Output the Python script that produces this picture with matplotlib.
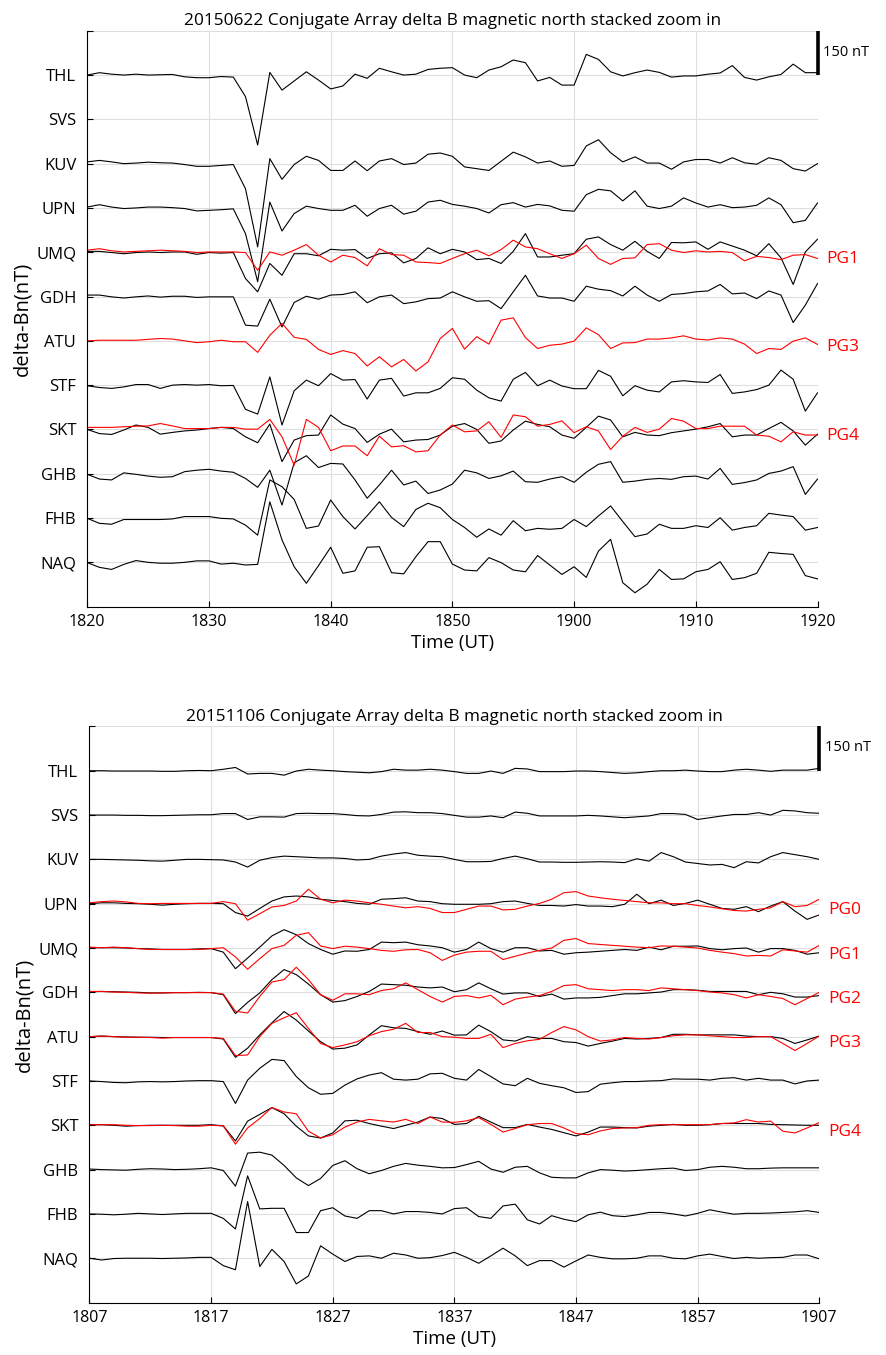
import numpy as np
import matplotlib.pyplot as plt

plt.rcParams['font.family'] = ['Open Sans', 'DejaVu Sans']

stations = ['THL', 'SVS', 'KUV', 'UPN', 'UMQ', 'GDH', 'ATU', 'STF', 'SKT', 'GHB', 'FHB', 'NAQ']

# ---- 20150622, 1820-1920 UT, one value per minute, delta Bn in nT ----
ticks_a = ['1820', '1830', '1840', '1850', '1900', '1910', '1920']
thl_a = [0, 8, 3, 0, 3, 0, 1, 2, -6, -9, -9, -5, -7, -73, -237, 9, -51, -20, 11, -17,
         -47, -37, 3, -11, 23, 11, 0, 3, 19, 23, 25, 0, -9, 17, 28, 51, 42, -20, -8, -34,
         -34, 70, 53, 11, -3, 8, 17, 9, -7, -3, -3, 3, 7, 32, -8, -17, -6, 2, 37, 8, 8]
svs_a = []  # no data
kuv_a = [6, 11, 6, 0, 2, 5, 3, 2, -3, -9, -9, -6, -3, -85, -282, 17, -53, -3, 25, 11,
         -23, -23, 9, -24, 9, 17, -3, 2, 32, 36, 25, -11, -17, -23, 8, 39, 23, 2, 9, -9,
         -6, 60, 81, 37, 6, 23, 2, 2, -19, 6, 14, 14, 2, 20, 3, -2, 20, 11, -17, -25, 0]
upn_a = [3, 11, 3, -2, 0, 3, 3, 1, -2, -10, -8, -6, -3, -87, -250, 20, -78, -19, 6, -2,
         -8, -8, 9, -28, -2, 9, -21, -11, 20, 26, 12, 6, -2, -17, 11, 18, 3, 12, 7, -8,
         -11, 45, 63, 58, 24, 58, 6, -2, 6, 34, 17, 3, 11, 1, 3, 9, 34, 11, -50, -42, 17]
umq_a = [3, 3, -1, -5, -1, 1, -1, 1, 1, -7, -1, -3, -1, -89, -134, -38, -78, -5, -5, -12,
         10, 7, 9, -21, -5, -2, -36, -21, 15, -5, 10, 1, -25, -21, -38, 3, 63, -16, -16, -10,
         -5, 44, 52, 26, 7, 37, 3, -21, 33, 32, 35, 10, 35, 21, 7, -12, 29, -19, -109, 1, 44]
gdh_a = [5, 5, -1, -5, -1, 2, -2, 1, 1, -3, -1, -1, -1, -97, -100, -9, -103, -20, 1, -9,
         5, 7, 16, -21, -1, 5, -24, -18, -7, -5, 16, -1, -16, -14, -41, 16, 72, 2, -5, -5,
         -16, 35, 25, 20, 2, 35, 5, -16, 7, 10, 16, 19, 41, 9, 12, -7, 19, 5, -88, -29, 44]
atu_a = []  # no data
stf_a = [-2, -8, -11, -6, 2, 2, -11, 0, 2, 0, 2, -2, -1, -82, -98, 28, -135, -19, 17, -2,
         39, 17, 19, -47, 17, 23, -37, -26, -26, -11, 25, 20, -17, -43, -54, 20, 43, -2, 17, -3,
         -12, -12, 50, 30, -36, -2, -17, -23, 11, 15, 11, 9, 36, -28, -23, -15, 0, 51, 20, -88, -26]
skt_a = [0, -14, -17, -2, 15, 7, -16, -10, -5, -2, 3, 7, 3, -25, -45, 18, -109, -36, -21, -19,
         49, 18, 3, -44, -16, 1, -42, -36, -34, -19, 11, 20, 0, -47, -39, -2, 28, 17, 9, -19,
         -30, 7, 45, 32, -25, -10, -19, -21, -11, -5, 1, 9, 20, -25, -19, -19, 3, 24, -5, -53, -16]
ghb_a = [-2, -18, -21, 3, -2, -8, -12, -10, 7, 12, 15, 9, 5, -16, -46, 12, -106, 37, 61, 21,
         35, 33, -21, -83, -38, 12, -38, -25, -67, -55, -35, 12, 3, -16, -7, 9, -27, -29, -18, -10,
         -29, 5, 32, 41, -29, -25, -19, -16, -19, -10, -8, -18, 18, -36, -30, -21, 1, 9, 24, -70, -18]
fhb_a = [-1, -18, -21, -5, -5, -5, -5, -3, 5, 5, 5, -1, -3, -24, -58, 129, 106, 63, -35, -27,
         61, 5, -37, 8, 55, 2, -29, 29, 50, 35, -5, -32, -65, -37, -58, -9, -43, -35, -38, -35,
         -5, -29, 7, 41, -12, -63, -54, -21, -35, -35, -26, -32, 1, -41, -32, -26, 16, 10, 5, -41, -32]
naq_a = [-1, -17, -24, -7, 6, 0, -3, -3, 0, 5, 5, -6, -3, -9, -7, 205, 76, -15, -71, -11,
         51, -37, -29, 51, 53, -35, -39, 19, 70, 70, -6, -26, -29, 16, -1, -26, -32, 23, -9, -41,
         -15, -51, 38, 78, -69, -103, -74, -24, -58, -56, -32, -24, 2, -58, -52, -37, 34, 30, 27, -45, -56]
# conjugate stations (red)
pg1_a = [7, 12, 5, 1, 3, 5, 7, 5, 3, -1, 1, 1, 1, -1, -61, 1, -10, 7, 26, -10,
         -33, -10, -18, -46, 12, -8, -10, -33, -35, -38, -21, -5, 7, -12, 9, 41, 18, 12, -5, -21,
         -5, 24, -21, -41, -21, -19, 26, 29, 7, -1, 5, 1, 3, -1, -29, -14, -18, -25, -10, -8, -21]
pg3_a = [0, 2, 2, 2, 2, 5, 8, 6, 0, -6, -3, 2, -3, -3, -39, 19, 59, 12, 5, -29,
         -46, -33, -43, -85, -54, -88, -63, -102, -71, 8, 42, -28, 14, -11, 70, 78, 11, -26, -15, -11,
         -1, 44, 21, -26, -7, -6, 6, 6, 10, 17, 6, 3, 10, 6, -11, -43, -26, -29, -1, 10, -12]
pg4_a = [7, 7, 7, 9, 11, 12, 20, 12, 3, 3, 3, 7, 7, 1, 1, 34, -25, -121, 34, 7,
         -72, -56, -56, -89, -23, -59, -55, -76, -72, -19, 15, -8, -5, 26, -27, 49, 43, 11, 17, 29,
         -11, 9, -5, -68, -23, 7, -10, 1, 37, 28, 3, 3, 11, 11, 11, -19, -23, -42, -8, -19, -19]

# ---- 20151106, 1807-1907 UT ----
ticks_b = ['1807', '1817', '1827', '1837', '1847', '1857', '1907']
thl_b = [0, 0, -1, -1, -1, -1, -2, -2, 0, 1, 0, 5, 11, -11, -9, -9, -15, -1, 5, 2,
         0, -3, -5, -7, -3, 5, 2, 2, 5, 2, -3, -9, -9, -1, -9, 8, 6, -3, -3, -3,
         -1, -1, -3, -6, -9, -7, -3, 0, 0, 2, -1, -3, -3, 2, 5, 2, -2, 2, 2, 2, 8]
svs_b = [0, 0, 0, -1, -1, -2, -2, -1, 0, 1, 1, 5, 5, -15, -6, -6, -7, 5, 6, 5,
         5, 2, -2, -3, 2, 10, 11, 8, 8, 5, -1, -7, -7, -3, -9, 10, 6, -3, -3, -3,
         -3, -1, -3, -6, -9, -6, -3, 5, 5, 2, -15, -9, -3, 2, 2, 8, 0, 16, 14, 8, 6]
kuv_b = [0, 0, -1, -2, -3, -5, -6, -3, 0, 0, -1, -2, -9, -26, -3, 6, 11, 9, 7, 5,
         5, 3, -2, 0, 11, 18, 23, 14, 11, 9, 0, -8, -8, -7, 3, 11, 2, -9, -9, -10,
         -10, -9, -8, -9, -11, 2, -6, 23, 9, -9, -14, -19, -17, -28, -8, -12, 9, 23, 16, 9, 0]
upn_b = [0, 3, 3, 1, 0, -2, -5, -2, 0, 1, 1, 0, -30, -42, -16, 9, 23, 26, 23, 15,
         11, 7, 1, -2, 15, 17, 20, 9, 7, 0, -2, -2, -2, 0, 7, 9, 1, -6, -6, -8,
         -3, -8, -8, -10, -2, 32, 0, 12, -6, 1, 12, -2, -16, -19, -10, -27, -8, 7, -25, -53, -38]
umq_b = [1, 1, 1, 0, -2, -3, -5, -5, -5, -3, -2, -14, -70, -34, 3, 41, 62, 45, 15, -5,
         -21, -10, -11, -5, 20, 18, 20, 11, 7, 1, -14, -5, 20, -2, -14, 1, 1, -10, -8, -21,
         -16, -14, -11, -8, -5, -8, 3, -6, 6, 6, 7, -2, -6, -2, 0, -14, -2, -2, -8, -21, -16]
gdh_b = [2, 3, 2, 1, 0, -2, -2, -1, -1, 0, -1, -8, -72, -34, -2, 43, 77, 60, 28, -8,
         -33, -28, -14, 3, 28, 26, 24, 18, 15, 18, 2, 9, 32, 12, -6, -2, -2, -14, -6, -23,
         -19, -19, -17, -11, -5, -5, -2, 1, 9, 9, 7, 3, 3, 3, 3, -8, 0, -5, -16, -16, -11]
atu_b = [0, 2, 0, -1, -2, -2, -3, -3, -3, -3, -3, -8, -70, -39, 6, 47, 85, 56, 19, -17,
         -42, -39, -28, 6, 37, 30, 28, 17, 8, 19, 5, 6, 39, 17, -11, -15, 0, -6, -6, -17,
         -20, -32, -23, -15, -6, -8, -6, -3, 8, 8, 6, 6, 6, 6, 2, 0, 0, -6, -23, -11, 2]
stf_b = [0, -2, -5, -6, -3, -2, -3, -2, 0, 1, 1, -2, -76, 3, 43, 73, 69, 15, -23, -45,
         -42, -14, 7, 20, 28, 6, 3, 6, 24, 26, 9, 3, 39, 15, -10, -16, 9, -8, -16, -23,
         -39, -36, -11, -6, -2, -2, 0, 1, 7, 6, 6, 3, 9, 11, 3, 9, 3, 3, -10, 0, 3]
skt_b = [2, 2, 0, -3, -1, 0, 0, 0, 0, 0, 2, -2, -53, 14, 37, 60, 39, -3, -36, -43,
         -26, 15, 17, 6, -3, -11, 0, 11, 28, 23, 3, 6, 30, 11, -8, -8, 3, -6, -14, -25,
         -36, -23, -6, -6, -8, -9, -3, 0, 3, 0, 0, 2, 6, 6, 6, 6, 3, 2, 1, 0, 0]
ghb_b = [2, 0, -1, -2, 1, 3, 2, 0, 1, 3, 6, -3, -56, 56, 59, 49, 14, -28, -54, -30,
         14, 30, 3, -14, -3, 11, 21, 15, 11, 6, 7, 17, 28, 2, -9, 8, 11, -11, -26, -28,
         -28, -11, 0, -2, -5, -3, 0, 3, 5, -3, 0, 8, 11, 8, 3, 3, 5, 6, 6, 6, 6]
fhb_b = [0, -1, -3, -1, 2, 0, -2, 0, 2, 2, 2, -15, -51, 129, 17, 19, 19, -63, -63, 11,
         21, -7, -15, 11, 11, 0, 8, 8, 5, 0, 18, 21, -9, -15, 27, 33, -20, -34, -6, -18,
         -26, -3, 6, -6, -9, -3, 5, 5, 0, -7, 2, 14, 6, -1, 2, 2, 3, 5, 7, 11, 5]
naq_b = [0, -6, -1, 0, 0, 0, -1, 0, 1, 3, 3, -25, -39, 192, -28, 30, -11, -87, -60, 42,
         14, -11, 6, 8, 0, 17, 11, 0, 2, 9, 20, 3, -17, 8, 34, 8, -25, -8, -8, -30,
         -9, 11, 3, -2, -2, 0, 8, 8, 0, -2, 8, 14, 6, -1, 3, 0, 2, 3, 11, 11, -2]
pg0_b = [3, 7, 9, 6, 1, 0, 1, 1, 1, 1, 1, 7, 0, -56, -34, -11, -6, 9, 49, 15,
         3, 12, 9, 3, -2, -8, -14, -10, -16, -30, -30, -19, -8, -8, -21, -19, -8, 1, 15, 37,
         41, 26, 20, 15, 11, 7, 3, 3, 0, 0, -6, -11, -17, -23, -25, -19, -14, 7, -10, -6, 15]
pg1_b = [3, 1, 3, 1, -2, -5, -5, -5, -5, -5, -2, 1, -30, -72, -36, -2, 9, 43, 52, 7,
         -2, 6, 3, -2, -8, -11, -6, -5, -16, -42, -24, -14, -11, -11, -39, -28, -17, -8, 0, 26,
         32, 15, 12, 9, 6, 3, 1, 7, 6, 3, 0, -8, -14, -19, -27, -25, -27, -6, -10, -14, 9]
pg2_b = [3, 3, 1, 0, -2, -3, -2, -1, -1, -1, -1, -6, -64, -70, -14, 35, 43, 85, 43, -8,
         -27, -5, -5, -8, 6, 12, 32, 9, -14, -33, -14, -11, -19, -10, -42, -23, -16, -11, 3, 23,
         26, 12, 9, 6, 9, 9, 6, 15, 12, 9, 6, 1, -2, -8, -19, -8, -14, -21, -42, -21, 0]
pg3_b = [0, 2, 0, -2, -2, -3, -5, -3, -3, -3, -3, -6, -64, -62, 0, 45, 64, 81, 28, -23,
         -37, -28, -17, 3, 17, 25, 45, 14, 14, 0, -2, -6, -6, 8, -37, -23, -14, -9, 14, 34,
         23, 0, -15, -11, -3, -6, -8, -3, 3, 6, 6, 3, 0, -3, -3, 0, 0, -23, -47, -23, 2]
pg4_b = [2, 2, 2, 0, -1, -1, 0, -1, -3, -3, 0, -2, -64, -9, 23, 60, 45, 39, -20, -43,
         -32, -6, 11, 20, 15, 11, 20, 6, 28, 11, 10, 15, 26, 3, -23, -11, 2, 6, 6, -9,
         -28, -32, -19, -11, -9, -8, 0, 2, 2, 2, 2, 2, 6, 8, 19, 11, 14, -20, -26, -9, 9]

SEP = 150  # nT between stacked stations


def panel(ax, title, ticks, black, red):
    for i, vals in enumerate(black):
        if len(vals):
            ax.plot(np.arange(len(vals)), np.array(vals) - SEP * i, color='k', lw=0.8)
    for name, st, vals in red:
        i = stations.index(st)
        ax.plot(np.arange(len(vals)), np.array(vals) - SEP * i, color='r', lw=0.8)
        ax.text(60.7, -SEP * i + 5, name, color='r', fontsize=12.5, va='top', ha='left')
    # scale bar
    ax.plot([60, 60], [SEP, 0], color='k', lw=2.6, clip_on=False, solid_capstyle='butt')
    ax.text(60.45, 78, '150 nT', fontsize=10.5, va='center', ha='left')

    ax.set_xlim(0, 60)
    ax.set_ylim(-SEP * len(stations), SEP)
    ax.set_xticks(np.arange(0, 61, 10))
    ax.set_xticklabels(ticks)
    ax.set_yticks([-SEP * i for i in range(len(stations))][::-1] + [SEP])
    ax.set_yticklabels(stations[::-1] + [''])
    ax.tick_params(direction='in', length=4, width=0.8)
    ax.tick_params(axis='y', pad=8, labelsize=12)
    ax.tick_params(axis='x', pad=5, labelsize=11.5)
    ax.grid(True, color='#dedede', lw=0.8)
    ax.set_axisbelow(True)
    for s in ['top', 'right']:
        ax.spines[s].set_visible(False)
    for s in ['left', 'bottom']:
        ax.spines[s].set_linewidth(0.8)
    ax.set_title(title, fontsize=12.4, pad=4)
    ax.set_xlabel('Time (UT)', fontsize=13.5, labelpad=3)
    ax.set_ylabel('delta-Bn(nT)', fontsize=14.5, labelpad=3)


fig = plt.figure(figsize=(8.86, 13.55), dpi=100)
ax1 = fig.add_axes([0.0985, 0.5523, 0.8242, 0.4250])
ax2 = fig.add_axes([0.1010, 0.0387, 0.8237, 0.4252])

panel(ax1, '20150622 Conjugate Array delta B magnetic north stacked zoom in', ticks_a,
      [thl_a, svs_a, kuv_a, upn_a, umq_a, gdh_a, atu_a, stf_a, skt_a, ghb_a, fhb_a, naq_a],
      [('PG1', 'UMQ', pg1_a), ('PG3', 'ATU', pg3_a), ('PG4', 'SKT', pg4_a)])
panel(ax2, '20151106 Conjugate Array delta B magnetic north stacked zoom in', ticks_b,
      [thl_b, svs_b, kuv_b, upn_b, umq_b, gdh_b, atu_b, stf_b, skt_b, ghb_b, fhb_b, naq_b],
      [('PG0', 'UPN', pg0_b), ('PG1', 'UMQ', pg1_b), ('PG2', 'GDH', pg2_b),
       ('PG3', 'ATU', pg3_b), ('PG4', 'SKT', pg4_b)])

fig.savefig('out.png', dpi=100)
